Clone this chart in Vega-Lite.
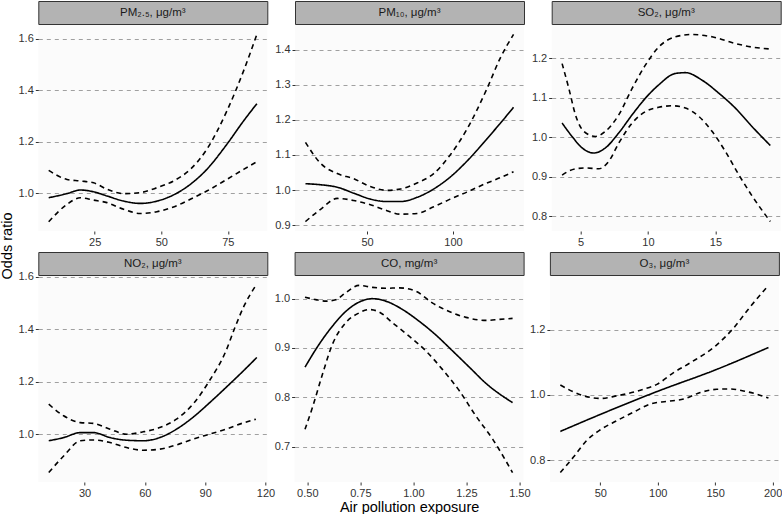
{
"$schema": "https://vega.github.io/schema/vega-lite/v6.json",
"padding": 0,
"autosize": {"type": "pad"},
"background": "white",
"datasets": {
"d": [
{"p":"pm25","s":"est","x":7.75,"y":0.983},{"p":"pm25","s":"est","x":14.6,"y":0.999},{"p":"pm25","s":"est","x":19.6,"y":1.013},{"p":"pm25","s":"est","x":24.6,"y":1.006},{"p":"pm25","s":"est","x":29.6,"y":0.990},{"p":"pm25","s":"est","x":35.9,"y":0.970},{"p":"pm25","s":"est","x":42.1,"y":0.961},{"p":"pm25","s":"est","x":48.4,"y":0.970},{"p":"pm25","s":"est","x":54.6,"y":0.994},{"p":"pm25","s":"est","x":60.9,"y":1.035},{"p":"pm25","s":"est","x":67.1,"y":1.093},{"p":"pm25","s":"est","x":74.6,"y":1.190},{"p":"pm25","s":"est","x":80.9,"y":1.281},{"p":"pm25","s":"est","x":85.9,"y":1.348},
{"p":"pm25","s":"hi","x":7.75,"y":1.089},{"p":"pm25","s":"hi","x":14.6,"y":1.054},{"p":"pm25","s":"hi","x":19.6,"y":1.048},{"p":"pm25","s":"hi","x":24.6,"y":1.041},{"p":"pm25","s":"hi","x":29.6,"y":1.016},{"p":"pm25","s":"hi","x":35.9,"y":0.999},{"p":"pm25","s":"hi","x":42.1,"y":1.003},{"p":"pm25","s":"hi","x":48.4,"y":1.022},{"p":"pm25","s":"hi","x":54.6,"y":1.048},{"p":"pm25","s":"hi","x":60.9,"y":1.093},{"p":"pm25","s":"hi","x":67.1,"y":1.171},{"p":"pm25","s":"hi","x":74.6,"y":1.319},{"p":"pm25","s":"hi","x":80.9,"y":1.475},{"p":"pm25","s":"hi","x":85.9,"y":1.617},
{"p":"pm25","s":"lo","x":7.75,"y":0.890},{"p":"pm25","s":"lo","x":14.6,"y":0.957},{"p":"pm25","s":"lo","x":19.6,"y":0.983},{"p":"pm25","s":"lo","x":24.6,"y":0.974},{"p":"pm25","s":"lo","x":29.6,"y":0.964},{"p":"pm25","s":"lo","x":35.9,"y":0.938},{"p":"pm25","s":"lo","x":42.1,"y":0.922},{"p":"pm25","s":"lo","x":48.4,"y":0.929},{"p":"pm25","s":"lo","x":54.6,"y":0.947},{"p":"pm25","s":"lo","x":60.9,"y":0.977},{"p":"pm25","s":"lo","x":67.1,"y":1.009},{"p":"pm25","s":"lo","x":74.6,"y":1.054},{"p":"pm25","s":"lo","x":80.9,"y":1.093},{"p":"pm25","s":"lo","x":85.9,"y":1.123},

{"p":"pm10","s":"est","x":14.1,"y":1.018},{"p":"pm10","s":"est","x":22.9,"y":1.015},{"p":"pm10","s":"est","x":32.6,"y":1.008},{"p":"pm10","s":"est","x":42.2,"y":0.991},{"p":"pm10","s":"est","x":51.9,"y":0.974},{"p":"pm10","s":"est","x":61.6,"y":0.967},{"p":"pm10","s":"est","x":69.4,"y":0.967},{"p":"pm10","s":"est","x":79.1,"y":0.979},{"p":"pm10","s":"est","x":88.8,"y":1.003},{"p":"pm10","s":"est","x":98.4,"y":1.037},{"p":"pm10","s":"est","x":108.1,"y":1.082},{"p":"pm10","s":"est","x":119.8,"y":1.146},{"p":"pm10","s":"est","x":127.5,"y":1.190},{"p":"pm10","s":"est","x":135.3,"y":1.236},
{"p":"pm10","s":"hi","x":14.1,"y":1.136},{"p":"pm10","s":"hi","x":22.9,"y":1.076},{"p":"pm10","s":"hi","x":32.6,"y":1.047},{"p":"pm10","s":"hi","x":42.2,"y":1.032},{"p":"pm10","s":"hi","x":51.9,"y":1.010},{"p":"pm10","s":"hi","x":61.6,"y":0.999},{"p":"pm10","s":"hi","x":69.4,"y":1.003},{"p":"pm10","s":"hi","x":79.1,"y":1.020},{"p":"pm10","s":"hi","x":88.8,"y":1.047},{"p":"pm10","s":"hi","x":98.4,"y":1.100},{"p":"pm10","s":"hi","x":108.1,"y":1.173},{"p":"pm10","s":"hi","x":119.8,"y":1.289},{"p":"pm10","s":"hi","x":127.5,"y":1.376},{"p":"pm10","s":"hi","x":135.3,"y":1.444},
{"p":"pm10","s":"lo","x":14.1,"y":0.910},{"p":"pm10","s":"lo","x":22.9,"y":0.945},{"p":"pm10","s":"lo","x":32.6,"y":0.976},{"p":"pm10","s":"lo","x":42.2,"y":0.970},{"p":"pm10","s":"lo","x":51.9,"y":0.958},{"p":"pm10","s":"lo","x":61.6,"y":0.941},{"p":"pm10","s":"lo","x":69.4,"y":0.931},{"p":"pm10","s":"lo","x":79.1,"y":0.933},{"p":"pm10","s":"lo","x":88.8,"y":0.952},{"p":"pm10","s":"lo","x":98.4,"y":0.974},{"p":"pm10","s":"lo","x":108.1,"y":0.994},{"p":"pm10","s":"lo","x":119.8,"y":1.020},{"p":"pm10","s":"lo","x":127.5,"y":1.035},{"p":"pm10","s":"lo","x":135.3,"y":1.052},

{"p":"so2","s":"est","x":3.64,"y":1.036},{"p":"so2","s":"est","x":4.38,"y":1.002},{"p":"so2","s":"est","x":5.12,"y":0.973},{"p":"so2","s":"est","x":5.99,"y":0.960},{"p":"so2","s":"est","x":6.85,"y":0.973},{"p":"so2","s":"est","x":7.84,"y":1.011},{"p":"so2","s":"est","x":8.83,"y":1.057},{"p":"so2","s":"est","x":9.81,"y":1.099},{"p":"so2","s":"est","x":10.80,"y":1.133},{"p":"so2","s":"est","x":12.04,"y":1.162},{"p":"so2","s":"est","x":12.78,"y":1.164},{"p":"so2","s":"est","x":14.01,"y":1.145},{"p":"so2","s":"est","x":15.25,"y":1.112},{"p":"so2","s":"est","x":16.48,"y":1.074},{"p":"so2","s":"est","x":17.72,"y":1.027},{"p":"so2","s":"est","x":19.07,"y":0.979},
{"p":"so2","s":"hi","x":3.64,"y":1.187},{"p":"so2","s":"hi","x":4.14,"y":1.124},{"p":"so2","s":"hi","x":4.63,"y":1.057},{"p":"so2","s":"hi","x":5.25,"y":1.015},{"p":"so2","s":"hi","x":6.11,"y":1.002},{"p":"so2","s":"hi","x":6.85,"y":1.015},{"p":"so2","s":"hi","x":7.84,"y":1.057},{"p":"so2","s":"hi","x":8.83,"y":1.124},{"p":"so2","s":"hi","x":9.81,"y":1.183},{"p":"so2","s":"hi","x":10.80,"y":1.229},{"p":"so2","s":"hi","x":12.04,"y":1.255},{"p":"so2","s":"hi","x":13.27,"y":1.261},{"p":"so2","s":"hi","x":14.75,"y":1.255},{"p":"so2","s":"hi","x":16.48,"y":1.238},{"p":"so2","s":"hi","x":17.72,"y":1.229},{"p":"so2","s":"hi","x":19.07,"y":1.224},
{"p":"so2","s":"lo","x":3.64,"y":0.904},{"p":"so2","s":"lo","x":4.63,"y":0.920},{"p":"so2","s":"lo","x":5.37,"y":0.922},{"p":"so2","s":"lo","x":6.36,"y":0.920},{"p":"so2","s":"lo","x":7.10,"y":0.939},{"p":"so2","s":"lo","x":7.84,"y":0.985},{"p":"so2","s":"lo","x":8.83,"y":1.036},{"p":"so2","s":"lo","x":9.81,"y":1.065},{"p":"so2","s":"lo","x":10.80,"y":1.076},{"p":"so2","s":"lo","x":11.79,"y":1.080},{"p":"so2","s":"lo","x":12.78,"y":1.074},{"p":"so2","s":"lo","x":13.77,"y":1.053},{"p":"so2","s":"lo","x":14.75,"y":1.015},{"p":"so2","s":"lo","x":15.74,"y":0.964},{"p":"so2","s":"lo","x":16.73,"y":0.905},{"p":"so2","s":"lo","x":17.72,"y":0.851},{"p":"so2","s":"lo","x":19.07,"y":0.786},

{"p":"no2","s":"est","x":12.2,"y":0.975},{"p":"no2","s":"est","x":19.6,"y":0.987},{"p":"no2","s":"est","x":27.9,"y":1.006},{"p":"no2","s":"est","x":34.5,"y":1.006},{"p":"no2","s":"est","x":42.7,"y":0.987},{"p":"no2","s":"est","x":50.9,"y":0.977},{"p":"no2","s":"est","x":59.2,"y":0.975},{"p":"no2","s":"est","x":67.4,"y":0.987},{"p":"no2","s":"est","x":75.7,"y":1.019},{"p":"no2","s":"est","x":83.9,"y":1.064},{"p":"no2","s":"est","x":92.1,"y":1.119},{"p":"no2","s":"est","x":100.4,"y":1.178},{"p":"no2","s":"est","x":108.6,"y":1.238},{"p":"no2","s":"est","x":115.7,"y":1.292},
{"p":"no2","s":"hi","x":12.2,"y":1.114},{"p":"no2","s":"hi","x":19.6,"y":1.070},{"p":"no2","s":"hi","x":27.9,"y":1.044},{"p":"no2","s":"hi","x":34.5,"y":1.041},{"p":"no2","s":"hi","x":42.7,"y":1.019},{"p":"no2","s":"hi","x":50.9,"y":1.000},{"p":"no2","s":"hi","x":59.2,"y":1.009},{"p":"no2","s":"hi","x":67.4,"y":1.025},{"p":"no2","s":"hi","x":75.7,"y":1.057},{"p":"no2","s":"hi","x":83.9,"y":1.114},{"p":"no2","s":"hi","x":92.1,"y":1.203},{"p":"no2","s":"hi","x":100.4,"y":1.318},{"p":"no2","s":"hi","x":104.5,"y":1.400},{"p":"no2","s":"hi","x":109.4,"y":1.489},{"p":"no2","s":"hi","x":115.2,"y":1.566},
{"p":"no2","s":"lo","x":12.2,"y":0.854},{"p":"no2","s":"lo","x":19.6,"y":0.917},{"p":"no2","s":"lo","x":27.9,"y":0.975},{"p":"no2","s":"lo","x":34.5,"y":0.978},{"p":"no2","s":"lo","x":42.7,"y":0.968},{"p":"no2","s":"lo","x":50.9,"y":0.949},{"p":"no2","s":"lo","x":59.2,"y":0.939},{"p":"no2","s":"lo","x":67.4,"y":0.943},{"p":"no2","s":"lo","x":75.7,"y":0.959},{"p":"no2","s":"lo","x":83.9,"y":0.981},{"p":"no2","s":"lo","x":92.1,"y":1.000},{"p":"no2","s":"lo","x":100.4,"y":1.019},{"p":"no2","s":"lo","x":108.6,"y":1.042},{"p":"no2","s":"lo","x":115.2,"y":1.057},

{"p":"co","s":"est","x":0.489,"y":0.861},{"p":"co","s":"est","x":0.555,"y":0.907},{"p":"co","s":"est","x":0.618,"y":0.944},{"p":"co","s":"est","x":0.681,"y":0.974},{"p":"co","s":"est","x":0.744,"y":0.993},{"p":"co","s":"est","x":0.807,"y":1.000},{"p":"co","s":"est","x":0.870,"y":0.995},{"p":"co","s":"est","x":0.949,"y":0.978},{"p":"co","s":"est","x":1.028,"y":0.954},{"p":"co","s":"est","x":1.107,"y":0.926},{"p":"co","s":"est","x":1.185,"y":0.894},{"p":"co","s":"est","x":1.264,"y":0.861},{"p":"co","s":"est","x":1.343,"y":0.828},{"p":"co","s":"est","x":1.468,"y":0.789},
{"p":"co","s":"hi","x":0.489,"y":1.003},{"p":"co","s":"hi","x":0.540,"y":0.998},{"p":"co","s":"hi","x":0.587,"y":0.995},{"p":"co","s":"hi","x":0.634,"y":0.998},{"p":"co","s":"hi","x":0.681,"y":1.012},{"p":"co","s":"hi","x":0.744,"y":1.027},{"p":"co","s":"hi","x":0.807,"y":1.023},{"p":"co","s":"hi","x":0.870,"y":1.021},{"p":"co","s":"hi","x":0.933,"y":1.022},{"p":"co","s":"hi","x":1.012,"y":1.015},{"p":"co","s":"hi","x":1.091,"y":0.991},{"p":"co","s":"hi","x":1.169,"y":0.974},{"p":"co","s":"hi","x":1.248,"y":0.962},{"p":"co","s":"hi","x":1.343,"y":0.956},{"p":"co","s":"hi","x":1.406,"y":0.958},{"p":"co","s":"hi","x":1.468,"y":0.960},
{"p":"co","s":"lo","x":0.489,"y":0.735},{"p":"co","s":"lo","x":0.524,"y":0.779},{"p":"co","s":"lo","x":0.571,"y":0.846},{"p":"co","s":"lo","x":0.618,"y":0.907},{"p":"co","s":"lo","x":0.681,"y":0.951},{"p":"co","s":"lo","x":0.744,"y":0.971},{"p":"co","s":"lo","x":0.791,"y":0.978},{"p":"co","s":"lo","x":0.839,"y":0.973},{"p":"co","s":"lo","x":0.902,"y":0.951},{"p":"co","s":"lo","x":0.980,"y":0.924},{"p":"co","s":"lo","x":1.059,"y":0.894},{"p":"co","s":"lo","x":1.138,"y":0.856},{"p":"co","s":"lo","x":1.217,"y":0.813},{"p":"co","s":"lo","x":1.295,"y":0.762},{"p":"co","s":"lo","x":1.374,"y":0.715},{"p":"co","s":"lo","x":1.468,"y":0.647},

{"p":"o3","s":"est","x":15.2,"y":0.888},{"p":"o3","s":"est","x":50.0,"y":0.940},{"p":"o3","s":"est","x":99.3,"y":1.010},{"p":"o3","s":"est","x":151.4,"y":1.078},{"p":"o3","s":"est","x":196.4,"y":1.145},
{"p":"o3","s":"hi","x":15.2,"y":1.030},{"p":"o3","s":"hi","x":35.5,"y":0.997},{"p":"o3","s":"hi","x":50.0,"y":0.989},{"p":"o3","s":"hi","x":64.5,"y":0.997},{"p":"o3","s":"hi","x":87.7,"y":1.017},{"p":"o3","s":"hi","x":99.3,"y":1.032},{"p":"o3","s":"hi","x":113.8,"y":1.068},{"p":"o3","s":"hi","x":128.3,"y":1.098},{"p":"o3","s":"hi","x":151.4,"y":1.153},{"p":"o3","s":"hi","x":165.9,"y":1.204},{"p":"o3","s":"hi","x":180.4,"y":1.269},{"p":"o3","s":"hi","x":196.4,"y":1.335},
{"p":"o3","s":"lo","x":15.2,"y":0.762},{"p":"o3","s":"lo","x":26.8,"y":0.810},{"p":"o3","s":"lo","x":38.4,"y":0.861},{"p":"o3","s":"lo","x":50.0,"y":0.893},{"p":"o3","s":"lo","x":64.5,"y":0.921},{"p":"o3","s":"lo","x":79.0,"y":0.947},{"p":"o3","s":"lo","x":93.5,"y":0.972},{"p":"o3","s":"lo","x":108.0,"y":0.980},{"p":"o3","s":"lo","x":122.5,"y":0.987},{"p":"o3","s":"lo","x":137.0,"y":1.007},{"p":"o3","s":"lo","x":151.4,"y":1.017},{"p":"o3","s":"lo","x":163.0,"y":1.018},{"p":"o3","s":"lo","x":174.6,"y":1.012},{"p":"o3","s":"lo","x":186.2,"y":1.002},{"p":"o3","s":"lo","x":196.4,"y":0.990}
]
},
"spacing": 2.3,
"hconcat": [
{"width": 14, "height": 490, "data": {"values": [{"t": "Odds ratio"}]}, "mark": {"type": "text", "angle": 270, "fontSize": 14.5, "color": "#000000", "baseline": "middle", "align": "center"}, "encoding": {"text": {"field": "t"}}},
{"spacing": 4, "vconcat": [
 {"spacing": 5.7, "hconcat": [
  {"bounds": "flush", "spacing": 1, "vconcat": [
   {"width": 229, "height": 23, "view": {"fill": "#B3B3B3", "stroke": "#333333", "strokeWidth": 1}, "data": {"values": [{"label": "PM₂.₅, μg/m³"}]}, "mark": {"type": "text", "fontSize": 11.5, "color": "#1A1A1A", "baseline": "middle"}, "encoding": {"text": {"field": "label"}}},
   {"width": 229, "height": 206, "view": {"fill": "#FBFBFB", "stroke": null}, "data": {"name": "d"}, "transform": [{"filter": "datum.p == 'pm25'"}],
    "mark": {"type": "line", "interpolate": "monotone", "color": "#000000", "strokeWidth": 1.6},
    "encoding": {
     "x": {"field": "x", "type": "quantitative", "scale": {"domain": [3.85, 89.8], "nice": false, "zero": false}, "axis": {"values": [25, 50, 75], "title": null}},
     "y": {"field": "y", "type": "quantitative", "scale": {"domain": [0.854, 1.653], "nice": false, "zero": false}, "axis": {"values": [1.0, 1.2, 1.4, 1.6], "format": ".1f", "title": null}},
     "strokeDash": {"field": "s", "type": "nominal", "scale": {"domain": ["est", "lo", "hi"], "range": [[1, 0], [5, 4], [5, 4]]}, "legend": null}
    }}
  ]},
  {"bounds": "flush", "spacing": 1, "vconcat": [
   {"width": 229, "height": 23, "view": {"fill": "#B3B3B3", "stroke": "#333333", "strokeWidth": 1}, "data": {"values": [{"label": "PM₁₀, μg/m³"}]}, "mark": {"type": "text", "fontSize": 11.5, "color": "#1A1A1A", "baseline": "middle"}, "encoding": {"text": {"field": "label"}}},
   {"width": 229, "height": 206, "view": {"fill": "#FBFBFB", "stroke": null}, "data": {"name": "d"}, "transform": [{"filter": "datum.p == 'pm10'"}],
    "mark": {"type": "line", "interpolate": "monotone", "color": "#000000", "strokeWidth": 1.6},
    "encoding": {
     "x": {"field": "x", "type": "quantitative", "scale": {"domain": [8.0, 141.4], "nice": false, "zero": false}, "axis": {"values": [50, 100], "title": null}},
     "y": {"field": "y", "type": "quantitative", "scale": {"domain": [0.883, 1.471], "nice": false, "zero": false}, "axis": {"values": [0.9, 1.0, 1.1, 1.2, 1.3, 1.4], "format": ".1f", "title": null}},
     "strokeDash": {"field": "s", "type": "nominal", "scale": {"domain": ["est", "lo", "hi"], "range": [[1, 0], [5, 4], [5, 4]]}, "legend": null}
    }}
  ]},
  {"bounds": "flush", "spacing": 1, "vconcat": [
   {"width": 229, "height": 23, "view": {"fill": "#B3B3B3", "stroke": "#333333", "strokeWidth": 1}, "data": {"values": [{"label": "SO₂, μg/m³"}]}, "mark": {"type": "text", "fontSize": 11.5, "color": "#1A1A1A", "baseline": "middle"}, "encoding": {"text": {"field": "label"}}},
   {"width": 229, "height": 206, "view": {"fill": "#FBFBFB", "stroke": null}, "data": {"name": "d"}, "transform": [{"filter": "datum.p == 'so2'"}],
    "mark": {"type": "line", "interpolate": "monotone", "color": "#000000", "strokeWidth": 1.6},
    "encoding": {
     "x": {"field": "x", "type": "quantitative", "scale": {"domain": [2.87, 19.84], "nice": false, "zero": false}, "axis": {"values": [5, 10, 15], "title": null}},
     "y": {"field": "y", "type": "quantitative", "scale": {"domain": [0.762, 1.285], "nice": false, "zero": false}, "axis": {"values": [0.8, 0.9, 1.0, 1.1, 1.2], "format": ".1f", "title": null}},
     "strokeDash": {"field": "s", "type": "nominal", "scale": {"domain": ["est", "lo", "hi"], "range": [[1, 0], [5, 4], [5, 4]]}, "legend": null}
    }}
  ]}
 ]},
 {"spacing": -1.7, "hconcat": [
  {"bounds": "flush", "spacing": 1, "vconcat": [
   {"width": 229, "height": 23, "view": {"fill": "#B3B3B3", "stroke": "#333333", "strokeWidth": 1}, "data": {"values": [{"label": "NO₂, μg/m³"}]}, "mark": {"type": "text", "fontSize": 11.5, "color": "#1A1A1A", "baseline": "middle"}, "encoding": {"text": {"field": "label"}}},
   {"width": 229, "height": 206, "view": {"fill": "#FBFBFB", "stroke": null}, "data": {"name": "d"}, "transform": [{"filter": "datum.p == 'no2'"}],
    "mark": {"type": "line", "interpolate": "monotone", "color": "#000000", "strokeWidth": 1.6},
    "encoding": {
     "x": {"field": "x", "type": "quantitative", "scale": {"domain": [7.0, 120.9], "nice": false, "zero": false}, "axis": {"values": [30, 60, 90, 120], "title": null}},
     "y": {"field": "y", "type": "quantitative", "scale": {"domain": [0.818, 1.602], "nice": false, "zero": false}, "axis": {"values": [1.0, 1.2, 1.4, 1.6], "format": ".1f", "title": null}},
     "strokeDash": {"field": "s", "type": "nominal", "scale": {"domain": ["est", "lo", "hi"], "range": [[1, 0], [5, 4], [5, 4]]}, "legend": null}
    }}
  ]},
  {"bounds": "flush", "spacing": 1, "vconcat": [
   {"width": 229, "height": 23, "view": {"fill": "#B3B3B3", "stroke": "#333333", "strokeWidth": 1}, "data": {"values": [{"label": "CO, mg/m³"}]}, "mark": {"type": "text", "fontSize": 11.5, "color": "#1A1A1A", "baseline": "middle"}, "encoding": {"text": {"field": "label"}}},
   {"width": 229, "height": 206, "view": {"fill": "#FBFBFB", "stroke": null}, "data": {"name": "d"}, "transform": [{"filter": "datum.p == 'co'"}],
    "mark": {"type": "line", "interpolate": "monotone", "color": "#000000", "strokeWidth": 1.6},
    "encoding": {
     "x": {"field": "x", "type": "quantitative", "scale": {"domain": [0.44, 1.52], "nice": false, "zero": false}, "axis": {"values": [0.5, 0.75, 1.0, 1.25, 1.5], "format": ".2f", "title": "Air pollution exposure"}},
     "y": {"field": "y", "type": "quantitative", "scale": {"domain": [0.628, 1.046], "nice": false, "zero": false}, "axis": {"values": [0.7, 0.8, 0.9, 1.0], "format": ".1f", "title": null}},
     "strokeDash": {"field": "s", "type": "nominal", "scale": {"domain": ["est", "lo", "hi"], "range": [[1, 0], [5, 4], [5, 4]]}, "legend": null}
    }}
  ]},
  {"bounds": "flush", "spacing": 1, "vconcat": [
   {"width": 229, "height": 23, "view": {"fill": "#B3B3B3", "stroke": "#333333", "strokeWidth": 1}, "data": {"values": [{"label": "O₃, μg/m³"}]}, "mark": {"type": "text", "fontSize": 11.5, "color": "#1A1A1A", "baseline": "middle"}, "encoding": {"text": {"field": "label"}}},
   {"width": 229, "height": 206, "view": {"fill": "#FBFBFB", "stroke": null}, "data": {"name": "d"}, "transform": [{"filter": "datum.p == 'o3'"}],
    "mark": {"type": "line", "interpolate": "monotone", "color": "#000000", "strokeWidth": 1.6},
    "encoding": {
     "x": {"field": "x", "type": "quantitative", "scale": {"domain": [6.1, 205.5], "nice": false, "zero": false}, "axis": {"values": [50, 100, 150, 200], "title": null}},
     "y": {"field": "y", "type": "quantitative", "scale": {"domain": [0.733, 1.364], "nice": false, "zero": false}, "axis": {"values": [0.8, 1.0, 1.2], "format": ".1f", "title": null}},
     "strokeDash": {"field": "s", "type": "nominal", "scale": {"domain": ["est", "lo", "hi"], "range": [[1, 0], [5, 4], [5, 4]]}, "legend": null}
    }}
  ]}
 ]}
]}
],
"config": {
 "font": "Liberation Sans",
 "view": {"stroke": null},
 "axis": {"domain": false, "tickColor": "#333333", "tickSize": 3, "tickWidth": 1, "labelFontSize": 11, "labelColor": "#333333", "labelPadding": 2, "labelFlush": false, "labelOverlap": false, "titleFontSize": 14.5, "titleFontWeight": "normal", "titleColor": "#000000", "titlePadding": 2},
 "axisY": {"grid": true, "gridDash": [4, 4], "gridColor": "#A0A0A0", "gridWidth": 1},
 "axisX": {"grid": false}
}
}
